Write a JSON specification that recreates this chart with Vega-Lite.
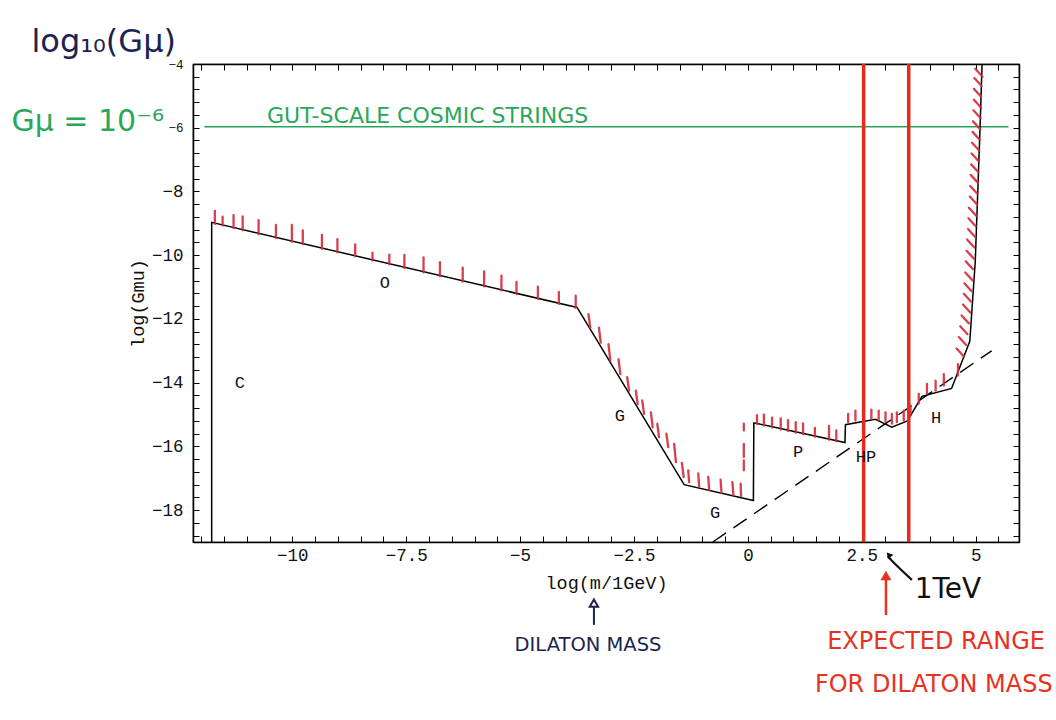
{
  "$schema": "https://vega.github.io/schema/vega-lite/v6.json",
  "width": 826,
  "height": 478,
  "autosize": {"type": "none"},
  "padding": {"left": 193, "top": 64, "right": 37, "bottom": 178},
  "background": "white",
  "config": {"view": {"stroke": "black", "strokeWidth": 1.2}},
  "datasets": {
    "bound": [
      {"i": 1, "x": -11.77, "y": -19},
      {"i": 2, "x": -11.77, "y": -8.97},
      {"i": 3, "x": -3.75, "y": -11.64},
      {"i": 4, "x": -1.40, "y": -17.2},
      {"i": 5, "x": 0.12, "y": -17.7},
      {"i": 6, "x": 0.13, "y": -15.26},
      {"i": 7, "x": 2.13, "y": -15.88},
      {"i": 8, "x": 2.14, "y": -15.32},
      {"i": 9, "x": 2.8, "y": -15.15},
      {"i": 10, "x": 3.16, "y": -15.4},
      {"i": 11, "x": 3.5, "y": -15.2},
      {"i": 12, "x": 3.82, "y": -14.43},
      {"i": 13, "x": 4.47, "y": -14.18},
      {"i": 14, "x": 4.87, "y": -12.7},
      {"i": 15, "x": 4.99, "y": -10.2},
      {"i": 16, "x": 5.09, "y": -6.2},
      {"i": 17, "x": 5.14, "y": -4}
    ],
    "dashed": [
      {"i": 1, "x": -0.77, "y": -19},
      {"i": 2, "x": 5.35, "y": -13.0}
    ],
    "hatch": [
      {"x": -11.70, "x2": -11.70, "y": -9.02, "y2": -8.61},
      {"x": -11.53, "x2": -11.53, "y": -9.07, "y2": -8.79},
      {"x": -11.29, "x2": -11.29, "y": -9.15, "y2": -8.74},
      {"x": -11.09, "x2": -11.09, "y": -9.22, "y2": -8.78},
      {"x": -10.74, "x2": -10.74, "y": -9.34, "y2": -8.90},
      {"x": -10.36, "x2": -10.36, "y": -9.46, "y2": -9.05},
      {"x": -10.01, "x2": -10.01, "y": -9.58, "y2": -9.05},
      {"x": -9.77, "x2": -9.77, "y": -9.66, "y2": -9.22},
      {"x": -9.35, "x2": -9.35, "y": -9.80, "y2": -9.36},
      {"x": -9.01, "x2": -9.01, "y": -9.91, "y2": -9.50},
      {"x": -8.62, "x2": -8.62, "y": -10.04, "y2": -9.66},
      {"x": -8.24, "x2": -8.24, "y": -10.17, "y2": -9.92},
      {"x": -7.87, "x2": -7.87, "y": -10.29, "y2": -9.98},
      {"x": -7.54, "x2": -7.54, "y": -10.40, "y2": -9.99},
      {"x": -7.12, "x2": -7.12, "y": -10.54, "y2": -10.07},
      {"x": -6.76, "x2": -6.76, "y": -10.66, "y2": -10.22},
      {"x": -6.26, "x2": -6.26, "y": -10.83, "y2": -10.39},
      {"x": -5.79, "x2": -5.79, "y": -10.98, "y2": -10.51},
      {"x": -5.41, "x2": -5.41, "y": -11.11, "y2": -10.64},
      {"x": -5.08, "x2": -5.08, "y": -11.22, "y2": -10.84},
      {"x": -4.61, "x2": -4.61, "y": -11.37, "y2": -10.99},
      {"x": -4.15, "x2": -4.15, "y": -11.53, "y2": -11.15},
      {"x": -3.78, "x2": -3.78, "y": -11.65, "y2": -11.27},
      {"x": -3.50, "x2": -3.46, "y": -11.85, "y2": -12.27},
      {"x": -3.27, "x2": -3.23, "y": -12.27, "y2": -12.74},
      {"x": -3.06, "x2": -3.02, "y": -12.79, "y2": -13.31},
      {"x": -2.84, "x2": -2.80, "y": -13.26, "y2": -13.73},
      {"x": -2.65, "x2": -2.61, "y": -13.83, "y2": -14.25},
      {"x": -2.46, "x2": -2.42, "y": -14.25, "y2": -14.67},
      {"x": -2.32, "x2": -2.28, "y": -14.56, "y2": -14.98},
      {"x": -2.13, "x2": -2.09, "y": -14.93, "y2": -15.40},
      {"x": -1.99, "x2": -1.95, "y": -15.29, "y2": -15.71},
      {"x": -1.79, "x2": -1.75, "y": -15.60, "y2": -16.02},
      {"x": -1.62, "x2": -1.58, "y": -15.92, "y2": -16.49},
      {"x": -1.45, "x2": -1.41, "y": -16.52, "y2": -16.96},
      {"x": -1.31, "x2": -1.29, "y": -16.75, "y2": -17.12},
      {"x": -1.09, "x2": -1.07, "y": -16.85, "y2": -17.27},
      {"x": -0.87, "x2": -0.85, "y": -16.96, "y2": -17.38},
      {"x": -0.60, "x2": -0.58, "y": -17.04, "y2": -17.46},
      {"x": -0.34, "x2": -0.32, "y": -17.12, "y2": -17.53},
      {"x": -0.16, "x2": -0.15, "y": -17.17, "y2": -17.56},
      {"x": -0.09, "x2": -0.09, "y": -15.29, "y2": -15.50},
      {"x": -0.09, "x2": -0.09, "y": -15.92, "y2": -16.33},
      {"x": -0.09, "x2": -0.09, "y": -16.44, "y2": -16.75},
      {"x": 0.20, "x2": 0.20, "y": -15.30, "y2": -15.02},
      {"x": 0.35, "x2": 0.35, "y": -15.35, "y2": -15.00},
      {"x": 0.53, "x2": 0.53, "y": -15.41, "y2": -15.10},
      {"x": 0.72, "x2": 0.72, "y": -15.47, "y2": -15.12},
      {"x": 0.88, "x2": 0.88, "y": -15.52, "y2": -15.18},
      {"x": 1.05, "x2": 1.05, "y": -15.57, "y2": -15.24},
      {"x": 1.21, "x2": 1.21, "y": -15.62, "y2": -15.28},
      {"x": 1.47, "x2": 1.47, "y": -15.70, "y2": -15.42},
      {"x": 1.78, "x2": 1.78, "y": -15.79, "y2": -15.36},
      {"x": 1.94, "x2": 1.94, "y": -15.84, "y2": -15.50},
      {"x": 2.20, "x2": 2.20, "y": -15.24, "y2": -14.98},
      {"x": 2.36, "x2": 2.36, "y": -15.19, "y2": -14.88},
      {"x": 2.54, "x2": 2.54, "y": -15.13, "y2": -14.85},
      {"x": 2.71, "x2": 2.71, "y": -15.13, "y2": -14.85},
      {"x": 2.87, "x2": 2.87, "y": -15.17, "y2": -14.88},
      {"x": 3.02, "x2": 3.02, "y": -15.21, "y2": -14.93},
      {"x": 3.16, "x2": 3.16, "y": -15.29, "y2": -14.98},
      {"x": 3.27, "x2": 3.27, "y": -15.24, "y2": -14.93},
      {"x": 3.42, "x2": 3.42, "y": -15.19, "y2": -14.88},
      {"x": 3.57, "x2": 3.57, "y": -15.03, "y2": -14.72},
      {"x": 3.75, "x2": 3.75, "y": -14.66, "y2": -14.35},
      {"x": 3.93, "x2": 3.93, "y": -14.35, "y2": -14.04},
      {"x": 4.12, "x2": 4.12, "y": -14.25, "y2": -13.94},
      {"x": 4.30, "x2": 4.30, "y": -14.09, "y2": -13.73},
      {"x": 4.61, "x2": 4.61, "y": -13.78, "y2": -13.42},
      {"x": 4.58, "x2": 4.74, "y": -12.93, "y2": -13.18},
      {"x": 4.63, "x2": 4.79, "y": -12.57, "y2": -12.82},
      {"x": 4.66, "x2": 4.82, "y": -12.23, "y2": -12.48},
      {"x": 4.69, "x2": 4.85, "y": -11.89, "y2": -12.14},
      {"x": 4.72, "x2": 4.88, "y": -11.55, "y2": -11.80},
      {"x": 4.74, "x2": 4.90, "y": -11.21, "y2": -11.46},
      {"x": 4.75, "x2": 4.91, "y": -10.88, "y2": -11.13},
      {"x": 4.77, "x2": 4.93, "y": -10.54, "y2": -10.79},
      {"x": 4.78, "x2": 4.94, "y": -10.19, "y2": -10.44},
      {"x": 4.80, "x2": 4.96, "y": -9.86, "y2": -10.11},
      {"x": 4.81, "x2": 4.97, "y": -9.51, "y2": -9.76},
      {"x": 4.83, "x2": 4.99, "y": -9.18, "y2": -9.43},
      {"x": 4.84, "x2": 5.00, "y": -8.84, "y2": -9.09},
      {"x": 4.85, "x2": 5.01, "y": -8.51, "y2": -8.76},
      {"x": 4.87, "x2": 5.03, "y": -8.16, "y2": -8.41},
      {"x": 4.88, "x2": 5.04, "y": -7.83, "y2": -8.08},
      {"x": 4.89, "x2": 5.05, "y": -7.48, "y2": -7.73},
      {"x": 4.90, "x2": 5.06, "y": -7.15, "y2": -7.40},
      {"x": 4.91, "x2": 5.07, "y": -6.81, "y2": -7.06},
      {"x": 4.92, "x2": 5.08, "y": -6.47, "y2": -6.72},
      {"x": 4.93, "x2": 5.09, "y": -6.13, "y2": -6.38},
      {"x": 4.94, "x2": 5.10, "y": -5.80, "y2": -6.05},
      {"x": 4.95, "x2": 5.11, "y": -5.45, "y2": -5.70},
      {"x": 4.96, "x2": 5.12, "y": -5.12, "y2": -5.37},
      {"x": 4.96, "x2": 5.12, "y": -4.78, "y2": -5.03},
      {"x": 4.97, "x2": 5.13, "y": -4.44, "y2": -4.69},
      {"x": 4.99, "x2": 5.15, "y": -4.15, "y2": -4.40}
    ],
    "region": [
      {"x": -11.15, "y": -14.01, "t": "C"},
      {"x": -7.97, "y": -10.87, "t": "O"},
      {"x": -2.81, "y": -15.05, "t": "G"},
      {"x": -0.72, "y": -18.09, "t": "G"},
      {"x": 1.10, "y": -16.17, "t": "P"},
      {"x": 2.59, "y": -16.33, "t": "HP"},
      {"x": 4.13, "y": -15.11, "t": "H"}
    ]
  },
  "layer": [
    {
      "data": {"values": [{"x": -11.93, "x2": 5.72, "y": -5.97}]},
      "mark": {"type": "rule", "color": "#27a456", "strokeWidth": 1.6},
      "encoding": {
        "x": {"field": "x", "type": "quantitative", "scale": {"domain": [-12.18, 5.95], "nice": false, "zero": false},
          "axis": {"orient": "bottom", "values": [-12, -11.5, -11, -10.5, -10, -9.5, -9, -8.5, -8, -7.5, -7, -6.5, -6, -5.5, -5, -4.5, -4, -3.5, -3, -2.5, -2, -1.5, -1, -0.5, 0, 0.5, 1, 1.5, 2, 2.5, 3, 3.5, 4, 4.5, 5, 5.5],
            "format": "~g", "labelExpr": "datum.value % 2.5 == 0 ? datum.label : ''",
            "tickSize": -6, "tickColor": "black", "tickWidth": 1, "labelPadding": 10, "labelOverlap": false, "labelFlush": false,
            "domainColor": "black", "domainWidth": 1.5, "grid": false,
            "labelFont": "Liberation Mono", "labelFontSize": 17.5, "labelColor": "#111",
            "title": "log(m/1GeV)", "titleFont": "Liberation Mono", "titleFontSize": 18.5, "titleFontWeight": "normal", "titleColor": "#111", "titlePadding": 10}},
        "x2": {"field": "x2"},
        "y": {"field": "y", "type": "quantitative", "scale": {"domain": [-19, -4], "nice": false, "zero": false},
          "axis": {"orient": "left", "values": [-4, -4.4, -4.8, -5.2, -5.6, -6, -6.4, -6.8, -7.2, -7.6, -8, -8.4, -8.8, -9.2, -9.6, -10, -10.4, -10.8, -11.2, -11.6, -12, -12.4, -12.8, -13.2, -13.6, -14, -14.4, -14.8, -15.2, -15.6, -16, -16.4, -16.8, -17.2, -17.6, -18, -18.4, -18.8],
            "format": ".0f", "labelExpr": "abs(datum.value % 2) < 0.01 ? datum.label : ''",
            "tickSize": -6, "tickColor": "black", "tickWidth": 1, "labelPadding": 16, "labelOverlap": false, "labelFlush": false,
            "labelFontSize": {"condition": {"test": "datum.value > -7", "value": 12.5}, "value": 17.5},
            "domainColor": "black", "domainWidth": 1.5, "grid": false,
            "labelFont": "Liberation Mono", "labelColor": "#111",
            "title": "log(Gmu)", "titleFont": "Liberation Mono", "titleFontSize": 18.5, "titleFontWeight": "normal", "titleColor": "#111", "titlePadding": 4}}
      }
    },
    {
      "data": {"name": "dashed"},
      "mark": {"type": "line", "color": "black", "strokeWidth": 1.4, "strokeDash": [16, 9]},
      "encoding": {
        "x": {"field": "x", "type": "quantitative",
          "axis": {"orient": "top", "values": [-12, -11.5, -11, -10.5, -10, -9.5, -9, -8.5, -8, -7.5, -7, -6.5, -6, -5.5, -5, -4.5, -4, -3.5, -3, -2.5, -2, -1.5, -1, -0.5, 0, 0.5, 1, 1.5, 2, 2.5, 3, 3.5, 4, 4.5, 5, 5.5],
            "labels": false, "title": null, "tickSize": -6, "tickColor": "black", "tickWidth": 1, "domainColor": "black", "domainWidth": 1.5, "grid": false}},
        "y": {"field": "y", "type": "quantitative",
          "axis": {"orient": "right", "values": [-4, -4.4, -4.8, -5.2, -5.6, -6, -6.4, -6.8, -7.2, -7.6, -8, -8.4, -8.8, -9.2, -9.6, -10, -10.4, -10.8, -11.2, -11.6, -12, -12.4, -12.8, -13.2, -13.6, -14, -14.4, -14.8, -15.2, -15.6, -16, -16.4, -16.8, -17.2, -17.6, -18, -18.4, -18.8],
            "labels": false, "title": null, "tickSize": -6, "tickColor": "black", "tickWidth": 1, "domainColor": "black", "domainWidth": 1.5, "grid": false}},
        "order": {"field": "i", "type": "quantitative"}
      }
    },
    {
      "data": {"name": "bound"},
      "mark": {"type": "line", "color": "black", "strokeWidth": 1.5},
      "encoding": {
        "x": {"field": "x", "type": "quantitative", "axis": null},
        "y": {"field": "y", "type": "quantitative", "axis": null},
        "order": {"field": "i", "type": "quantitative"}
      }
    },
    {
      "data": {"name": "hatch"},
      "mark": {"type": "rule", "color": "#d02c3a", "strokeWidth": 2.3, "opacity": 0.9, "strokeCap": "round"},
      "encoding": {
        "x": {"field": "x", "type": "quantitative", "axis": null},
        "x2": {"field": "x2"},
        "y": {"field": "y", "type": "quantitative", "axis": null},
        "y2": {"field": "y2"}
      }
    },
    {
      "data": {"values": [{"x": 2.54}, {"x": 3.53}]},
      "mark": {"type": "rule", "color": "#e62a20", "strokeWidth": 3.5},
      "encoding": {
        "x": {"field": "x", "type": "quantitative", "axis": null}
      }
    },
    {
      "data": {"name": "region"},
      "mark": {"type": "text", "font": "Liberation Mono", "fontSize": 17, "color": "#111"},
      "encoding": {
        "x": {"field": "x", "type": "quantitative", "axis": null},
        "y": {"field": "y", "type": "quantitative", "axis": null},
        "text": {"field": "t"}
      }
    },
    {
      "data": {"values": [{"x": -14.14, "y": -3.31, "t": "log₁₀(Gμ)"}]},
      "mark": {"type": "text", "font": "DejaVu Sans", "fontSize": 32, "color": "#1c2350"},
      "encoding": {
        "x": {"field": "x", "type": "quantitative", "axis": null},
        "y": {"field": "y", "type": "quantitative", "axis": null},
        "text": {"field": "t"}
      }
    },
    {
      "data": {"values": [{"x": -3.51, "y": -22.23, "t": "DILATON MASS"}]},
      "mark": {"type": "text", "font": "DejaVu Sans", "fontSize": 19.5, "color": "#1c2350"},
      "encoding": {
        "x": {"field": "x", "type": "quantitative", "axis": null},
        "y": {"field": "y", "type": "quantitative", "axis": null},
        "text": {"field": "t"}
      }
    },
    {
      "data": {"values": [{"x": -14.49, "y": -5.82, "t": "Gμ = 10⁻⁶"}]},
      "mark": {"type": "text", "font": "DejaVu Sans", "fontSize": 30, "color": "#2aa75a"},
      "encoding": {
        "x": {"field": "x", "type": "quantitative", "axis": null},
        "y": {"field": "y", "type": "quantitative", "axis": null},
        "text": {"field": "t"}
      }
    },
    {
      "data": {"values": [{"x": -7.03, "y": -5.64, "t": "GUT-SCALE COSMIC STRINGS"}]},
      "mark": {"type": "text", "font": "DejaVu Sans", "fontSize": 22, "color": "#2aa75a"},
      "encoding": {
        "x": {"field": "x", "type": "quantitative", "axis": null},
        "y": {"field": "y", "type": "quantitative", "axis": null},
        "text": {"field": "t"}
      }
    },
    {
      "data": {"values": [{"x": 4.13, "y": -22.14, "t": "EXPECTED RANGE"}, {"x": 4.08, "y": -23.49, "t": "FOR DILATON MASS"}]},
      "mark": {"type": "text", "font": "DejaVu Sans", "fontSize": 24, "color": "#e8321f"},
      "encoding": {
        "x": {"field": "x", "type": "quantitative", "axis": null},
        "y": {"field": "y", "type": "quantitative", "axis": null},
        "text": {"field": "t"}
      }
    },
    {
      "data": {"values": [{"x": 4.39, "y": -20.50, "t": "1TeV"}]},
      "mark": {"type": "text", "font": "DejaVu Sans", "fontSize": 28, "color": "#111"},
      "encoding": {
        "x": {"field": "x", "type": "quantitative", "axis": null},
        "y": {"field": "y", "type": "quantitative", "axis": null},
        "text": {"field": "t"}
      }
    },
    {
      "data": {"values": [{"i": 1, "x": 3.60, "y": -20.19}, {"i": 2, "x": 3.29, "y": -19.78}, {"i": 3, "x": 3.07, "y": -19.45}]},
      "mark": {"type": "line", "color": "#111", "strokeWidth": 2.2, "interpolate": "basis"},
      "encoding": {
        "x": {"field": "x", "type": "quantitative", "axis": null},
        "y": {"field": "y", "type": "quantitative", "axis": null},
        "order": {"field": "i", "type": "quantitative"}
      }
    },
    {
      "data": {"values": [{"x": 3.09, "y": -19.40}]},
      "mark": {"type": "point", "shape": "triangle-up", "filled": true, "color": "#111", "size": 50, "angle": -40, "opacity": 1},
      "encoding": {
        "x": {"field": "x", "type": "quantitative", "axis": null},
        "y": {"field": "y", "type": "quantitative", "axis": null}
      }
    },
    {
      "data": {"values": [{"x": 3.03, "y": -21.29, "y2": -20.19}]},
      "mark": {"type": "rule", "color": "#e8321f", "strokeWidth": 2.5},
      "encoding": {
        "x": {"field": "x", "type": "quantitative", "axis": null},
        "y": {"field": "y", "type": "quantitative", "axis": null},
        "y2": {"field": "y2"}
      }
    },
    {
      "data": {"values": [{"x": 3.03, "y": -20.05}]},
      "mark": {"type": "point", "shape": "triangle-up", "filled": true, "color": "#e8321f", "size": 120, "opacity": 1},
      "encoding": {
        "x": {"field": "x", "type": "quantitative", "axis": null},
        "y": {"field": "y", "type": "quantitative", "axis": null}
      }
    },
    {
      "data": {"values": [{"x": -3.38, "y": -21.60, "y2": -21.04}]},
      "mark": {"type": "rule", "color": "#1c2350", "strokeWidth": 2},
      "encoding": {
        "x": {"field": "x", "type": "quantitative", "axis": null},
        "y": {"field": "y", "type": "quantitative", "axis": null},
        "y2": {"field": "y2"}
      }
    },
    {
      "data": {"values": [{"x": -3.38, "y": -20.92}]},
      "mark": {"type": "point", "shape": "triangle-up", "filled": false, "color": "#1c2350", "strokeWidth": 2, "size": 70, "opacity": 1},
      "encoding": {
        "x": {"field": "x", "type": "quantitative", "axis": null},
        "y": {"field": "y", "type": "quantitative", "axis": null}
      }
    }
  ],
  "resolve": {"axis": {"x": "independent", "y": "independent"}}
}
